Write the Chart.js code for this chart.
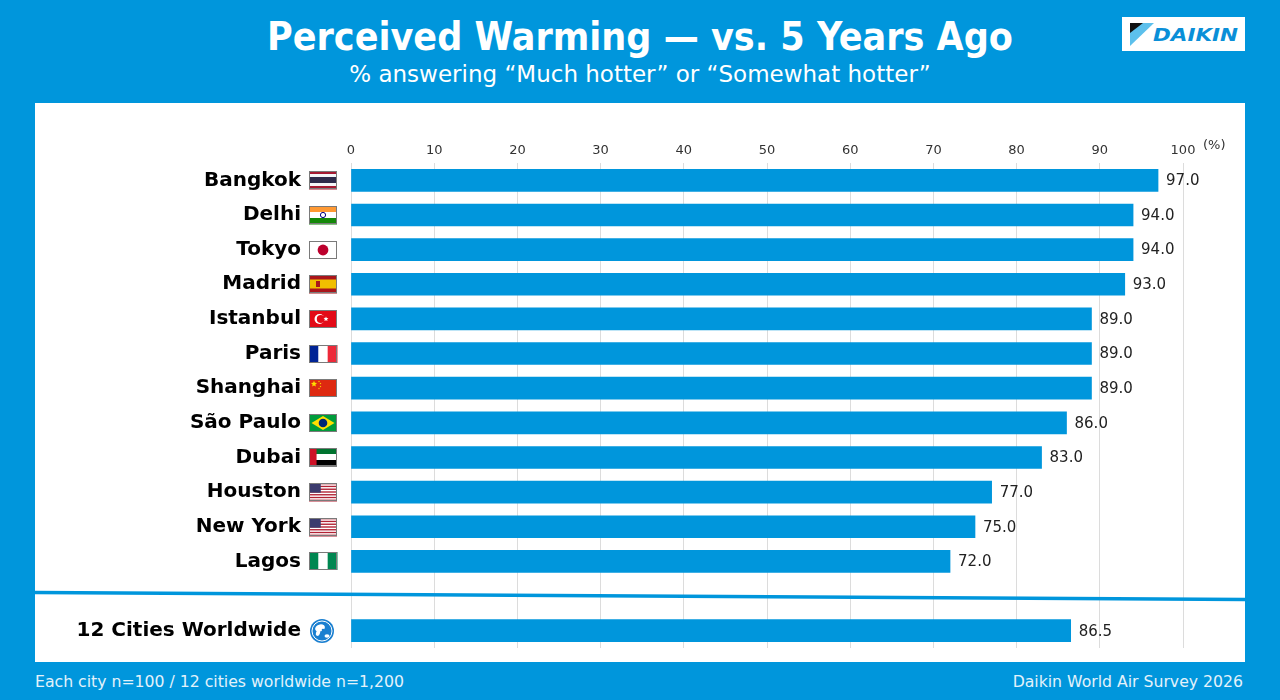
<!DOCTYPE html>
<html>
<head>
<meta charset="utf-8">
<script src="https://cdn.jsdelivr.net/npm/chart.js@4.4.1/dist/chart.umd.min.js"></script>
<style>
  body { margin: 0; width: 1280px; height: 700px; overflow: hidden; background: #0096dc; font-family: "DejaVu Sans", sans-serif; }
  #title { position: absolute; left: 0; width: 1280px; top: 13px; text-align: center; color: #fff; font: bold 39px "DejaVu Sans Condensed", "DejaVu Sans", sans-serif; line-height: 48px; }
  #subtitle { position: absolute; left: 0; width: 1280px; top: 60px; text-align: center; color: #fff; font: 23px "DejaVu Sans", sans-serif; line-height: 28px; }
  #logo { position: absolute; left: 1122px; top: 17px; width: 123px; height: 34px; background: #fff; }
  #panel { position: absolute; left: 35px; top: 103px; width: 1210px; height: 559px; background: #fff; }
  #barChart { display: block; }
  .foot { position: absolute; top: 673px; color: #e3f2fb; font: 15.7px "DejaVu Sans", sans-serif; line-height: 18px; }
</style>
</head>
<body>
<div id="title">Perceived Warming — vs. 5 Years Ago</div>
<div id="subtitle">% answering “Much hotter” or “Somewhat hotter”</div>
<div id="logo">
  <svg width="123" height="34" viewBox="0 0 123 34">
    <polygon points="8,6 32,6 8,29" fill="#5cc0ec"/>
    <polygon points="8,6 21,6 8,16" fill="#111"/>
    <text x="31" y="24" font-family="DejaVu Sans" font-weight="bold" font-style="italic" font-size="17" fill="#0a8fd8" textLength="85" lengthAdjust="spacingAndGlyphs">DAIKIN</text>
  </svg>
</div>
<div id="panel"><canvas id="barChart" width="1210" height="559"></canvas></div>
<div class="foot" style="left:35px">Each city n=100 / 12 cities worldwide n=1,200</div>
<div class="foot" style="right:37px">Daikin World Air Survey 2026</div>

<script>
// categories (blank row is the gap before the worldwide bar)
var cities = ['Bangkok', 'Delhi', 'Tokyo', 'Madrid', 'Istanbul', 'Paris', 'Shanghai', 'São Paulo', 'Dubai', 'Houston', 'New York', 'Lagos', '', '12 Cities Worldwide'];
var flags = ['th', 'in', 'jp', 'es', 'tr', 'fr', 'cn', 'br', 'ae', 'us', 'us', 'ng', '', 'globe'];
var hotterPct = [97.0, 94.0, 94.0, 93.0, 89.0, 89.0, 89.0, 86.0, 83.0, 77.0, 75.0, 72.0, null, 86.5];
var xTicks = [0, 10, 20, 30, 40, 50, 60, 70, 80, 90, 100];

var BLUE = '#0096dc';

function stripesH(c, x, y, w, h, cols, parts) {
    var total = parts.reduce(function (a, b) { return a + b; }, 0);
    var yy = y;
    for (var i = 0; i < cols.length; i++) {
        var hh = h * parts[i] / total;
        c.fillStyle = cols[i];
        c.fillRect(x, yy, w, hh + 0.5);
        yy += hh;
    }
}
function stripesV(c, x, y, w, h, cols) {
    for (var i = 0; i < cols.length; i++) {
        c.fillStyle = cols[i];
        c.fillRect(x + w * i / cols.length, y, w / cols.length + 0.5, h);
    }
}
function star(c, cx, cy, r, col) {
    c.beginPath();
    for (var i = 0; i < 10; i++) {
        var a = -Math.PI / 2 + i * Math.PI / 5;
        var rr = i % 2 ? r * 0.45 : r;
        c.lineTo(cx + rr * Math.cos(a), cy + rr * Math.sin(a));
    }
    c.closePath();
    c.fillStyle = col;
    c.fill();
}

function drawFlag(c, code, x, y, w, h) {
    c.save();
    if (code === 'globe') {
        var cx = x + 13, cy = y + h / 2, r = 12;
        c.beginPath(); c.arc(cx, cy, r, 0, Math.PI * 2); c.fillStyle = '#1a7fd0'; c.fill();
        c.beginPath(); c.arc(cx, cy, r - 2, 0, Math.PI * 2); c.strokeStyle = '#fff'; c.lineWidth = 1; c.stroke();
        c.fillStyle = '#fff';
        c.beginPath(); c.ellipse(cx - 2, cy - 3, 5, 3.5, -0.3, 0, Math.PI * 2); c.fill();
        c.beginPath(); c.ellipse(cx - 4, cy + 2, 2, 3, 0.3, 0, Math.PI * 2); c.fill();
        c.beginPath(); c.ellipse(cx + 5, cy + 5, 2.5, 1.8, 0, 0, Math.PI * 2); c.fill();
        c.fillStyle = '#1a7fd0';
        c.beginPath(); c.arc(cx + 1, cy - 1, 1.3, 0, Math.PI * 2); c.fill();
        c.restore();
        return;
    }
    if (code === 'th') {
        stripesH(c, x, y, w, h, ['#a51931', '#f4f5f8', '#2d2a4a', '#f4f5f8', '#a51931'], [1, 1, 2, 1, 1]);
    } else if (code === 'in') {
        stripesH(c, x, y, w, h, ['#ff9933', '#ffffff', '#138808'], [1, 1, 1]);
        c.beginPath(); c.arc(x + w / 2, y + h / 2, 2.6, 0, Math.PI * 2); c.strokeStyle = '#000080'; c.lineWidth = 1; c.stroke();
    } else if (code === 'jp') {
        c.fillStyle = '#fff'; c.fillRect(x, y, w, h);
        c.beginPath(); c.arc(x + w / 2, y + h / 2, h * 0.3, 0, Math.PI * 2); c.fillStyle = '#bc002d'; c.fill();
    } else if (code === 'es') {
        stripesH(c, x, y, w, h, ['#aa151b', '#f1bf00', '#aa151b'], [1, 2, 1]);
        c.fillStyle = '#aa151b'; c.fillRect(x + 7, y + 6, 4, 6);
    } else if (code === 'tr') {
        c.fillStyle = '#e30a17'; c.fillRect(x, y, w, h);
        c.beginPath(); c.arc(x + 10.5, y + h / 2, 5, 0, Math.PI * 2); c.fillStyle = '#fff'; c.fill();
        c.beginPath(); c.arc(x + 11.8, y + h / 2, 4, 0, Math.PI * 2); c.fillStyle = '#e30a17'; c.fill();
        star(c, x + 17, y + h / 2, 2.6, '#fff');
    } else if (code === 'fr') {
        stripesV(c, x, y, w, h, ['#002395', '#ffffff', '#ed2939']);
    } else if (code === 'cn') {
        c.fillStyle = '#de2910'; c.fillRect(x, y, w, h);
        star(c, x + 5, y + 5, 3.2, '#ffde00');
        star(c, x + 10, y + 2.5, 1, '#ffde00');
        star(c, x + 11.5, y + 4.5, 1, '#ffde00');
        star(c, x + 11.5, y + 7.5, 1, '#ffde00');
        star(c, x + 10, y + 9.5, 1, '#ffde00');
    } else if (code === 'br') {
        c.fillStyle = '#009c3b'; c.fillRect(x, y, w, h);
        c.beginPath(); c.moveTo(x + w / 2, y + 2); c.lineTo(x + w - 2.5, y + h / 2); c.lineTo(x + w / 2, y + h - 2); c.lineTo(x + 2.5, y + h / 2); c.closePath();
        c.fillStyle = '#ffdf00'; c.fill();
        c.beginPath(); c.arc(x + w / 2, y + h / 2, 4.3, 0, Math.PI * 2); c.fillStyle = '#002776'; c.fill();
    } else if (code === 'ae') {
        stripesH(c, x, y, w, h, ['#00732f', '#ffffff', '#000000'], [1, 1, 1]);
        c.fillStyle = '#ce1126'; c.fillRect(x, y, w * 0.27, h);
    } else if (code === 'us') {
        var cols = [];
        for (var i = 0; i < 13; i++) cols.push(i % 2 ? '#ffffff' : '#b22234');
        stripesH(c, x, y, w, h, cols, [1, 1, 1, 1, 1, 1, 1, 1, 1, 1, 1, 1, 1]);
        c.fillStyle = '#3c3b6e'; c.fillRect(x, y, w * 0.42, h * 7 / 13);
    } else if (code === 'ng') {
        stripesV(c, x, y, w, h, ['#008751', '#ffffff', '#008751']);
    }
    c.strokeStyle = '#7a7a7a';
    c.lineWidth = 1;
    c.strokeRect(x + 0.5, y + 0.5, w - 1, h - 1);
    c.restore();
}

// flags, value labels, the tilted separator and the (%) unit
var extrasPlugin = {
    id: 'extras',
    afterDatasetsDraw: function (chart) {
        var c = chart.ctx;
        var area = chart.chartArea;
        var yScale = chart.scales.y;
        var xScale = chart.scales.x;

        // flags next to the city names
        flags.forEach(function (code, i) {
            if (!code) return;
            var cy = yScale.getPixelForValue(i);
            drawFlag(c, code, area.left - 42, Math.round(cy - 9), 28, 18);
        });

        // value labels
        var meta = chart.getDatasetMeta(0);
        c.save();
        c.font = '15px "DejaVu Sans", sans-serif';
        c.fillStyle = '#222';
        c.textBaseline = 'middle';
        c.textAlign = 'left';
        meta.data.forEach(function (bar, i) {
            if (hotterPct[i] === null) return;
            c.fillText(hotterPct[i].toFixed(1), bar.x + 8, bar.y + 1);
        });
        c.restore();

        // separator line across the empty row
        var gapY = yScale.getPixelForValue(12);
        c.save();
        c.strokeStyle = BLUE;
        c.lineWidth = 3.5;
        c.beginPath();
        c.moveTo(0, gapY - 3.5);
        c.lineTo(chart.width, gapY + 3.5);
        c.stroke();
        c.restore();

        // unit after the last tick
        c.save();
        c.font = '13px "DejaVu Sans", sans-serif';
        c.fillStyle = '#333';
        c.textBaseline = 'middle';
        c.fillText('(%)', xScale.getPixelForValue(100) + 20, 43);
        c.restore();
    }
};

var ctx = document.getElementById('barChart').getContext('2d');
var myChart = new Chart(ctx, {
    type: 'bar',
    data: {
        labels: cities,
        datasets: [{
            data: hotterPct,
            backgroundColor: BLUE,
            barThickness: 22
        }]
    },
    options: {
        indexAxis: 'y',
        responsive: false,
        animation: false,
        layout: { padding: { left: 0, right: 62, top: 0, bottom: 14 } },
        plugins: {
            legend: { display: false },
            tooltip: { enabled: false }
        },
        scales: {
            x: {
                position: 'top',
                min: 0,
                max: 100,
                afterBuildTicks: function (axis) {
                    axis.ticks = xTicks.map(function (v) { return { value: v }; });
                },
                afterFit: function (axis) { axis.height = 60; },
                grid: { color: '#dcdcdc', drawTicks: false },
                border: { display: false },
                ticks: { padding: 5, color: '#333', font: { family: 'DejaVu Sans', size: 13 } }
            },
            y: {
                afterFit: function (axis) { axis.width = 316; },
                // tick marks hidden, tickLength only makes room for the flags
                grid: { display: false, drawTicks: true, tickLength: 50 },
                border: { display: false },
                ticks: { padding: 0, color: '#000', font: { family: 'DejaVu Sans', size: 20, weight: 'bold' } }
            }
        }
    },
    plugins: [extrasPlugin]
});
</script>
</body>
</html>
